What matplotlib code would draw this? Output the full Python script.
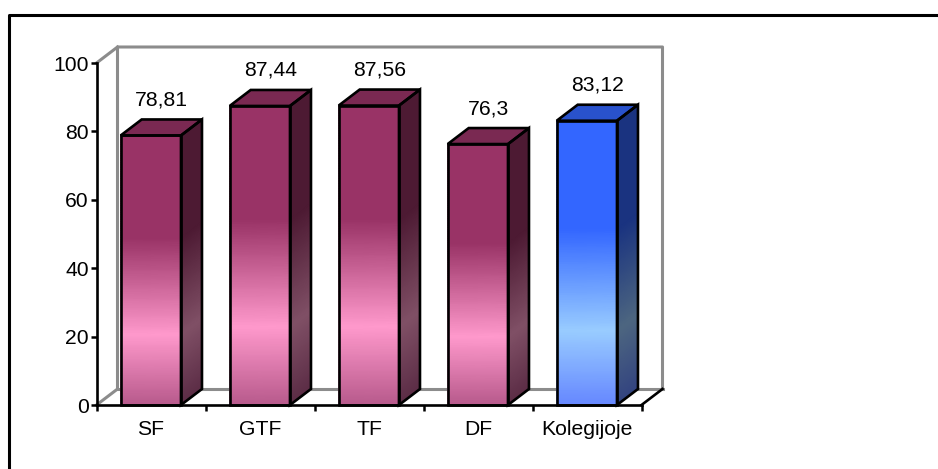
import numpy as np
import matplotlib
matplotlib.use("Agg")
import matplotlib.pyplot as plt
from matplotlib.colors import LinearSegmentedColormap
from matplotlib.patches import Polygon
from matplotlib.lines import Line2D

plt.rcParams["font.family"] = ["Liberation Sans", "DejaVu Sans"]

categories = ["SF", "GTF", "TF", "DF", "Kolegijoje"]
values = [78.81, 87.44, 87.56, 76.3, 83.12]
value_labels = ["78,81", "87,44", "87,56", "76,3", "83,12"]
yticks = [0, 20, 40, 60, 80, 100]

W, H = 938, 469
# plot area in pixels
x0, x1 = 96.5, 641.5
y0, y100 = 405, 63
# 3d depth, in data units
dx = 21 / 109
dy = 16 / 3.42
bar_left = 0.222
bar_w = 0.553
FS = 15.2
EDGE = 1.9

pink_stops = [(0, "#993366"), (0.38, "#993366"), (0.74, "#FF99CC"), (1, "#B85A8C")]
blue_stops = [(0, "#3366FF"), (0.38, "#3366FF"), (0.74, "#99CCFF"), (1, "#6688FF")]
pink_side = [(0, "#4D1A33"), (0.38, "#4D1A33"), (0.74, "#805066"), (1, "#5C2D46")]
blue_side = [(0, "#1A3380"), (0.38, "#1A3380"), (0.74, "#4D6680"), (1, "#334480")]
pink_top = "#7A2952"
blue_top = "#2952CC"


def cmap(stops):
    return LinearSegmentedColormap.from_list("g", stops)


fig = plt.figure(figsize=(W / 100, H / 100), dpi=100)
# outer frame only has a top and a left side
frame_x = [9 / W, 9 / W, 1]
frame_y = [0, 1 - 15 / H, 1 - 15 / H]
fig.add_artist(Line2D(frame_x, frame_y, color="black", lw=2.2, transform=fig.transFigure, zorder=-1))

ax = fig.add_axes([x0 / W, 1 - y0 / H, (x1 - x0) / W, (y0 - y100) / H])
ax.set_xlim(0, 5)
ax.set_ylim(0, 100)
ax.patch.set_visible(False)
for s in ax.spines.values():
    s.set_visible(False)

# back walls
grey = "#8C8C8C"
ax.plot([0, dx, dx, 5 + dx, 5 + dx], [0, dy, 100 + dy, 100 + dy, dy], color=grey, lw=2.2, clip_on=False, zorder=1)
ax.plot([0, dx], [100, 100 + dy], color=grey, lw=2.2, clip_on=False, zorder=1)
ax.plot([dx, 5 + dx], [dy, dy], color=grey, lw=2.2, clip_on=False, zorder=1)
ax.plot([5, 5 + dx], [0, dy], color="black", lw=EDGE, clip_on=False, zorder=2)

t = np.linspace(0, 1, 120)
for i, v in enumerate(values):
    last = i == len(values) - 1
    front_c = cmap(blue_stops if last else pink_stops)
    side_c = cmap(blue_side if last else pink_side)
    top_c = blue_top if last else pink_top
    l = i + bar_left
    r = l + bar_w
    ys = v * (1 - t)

    X = np.array([[l, r]] * len(t))
    Y = np.column_stack([ys, ys])
    C = np.column_stack([t, t])
    ax.pcolormesh(X, Y, C, cmap=front_c, vmin=0, vmax=1, shading="gouraud", zorder=3, clip_on=False)
    X = np.array([[r, r + dx]] * len(t))
    Y = np.column_stack([ys, ys + dy])
    ax.pcolormesh(X, Y, C, cmap=side_c, vmin=0, vmax=1, shading="gouraud", zorder=3, clip_on=False)

    ax.add_patch(Polygon([[l, v], [r, v], [r + dx, v + dy], [l + dx, v + dy]], fc=top_c, ec="black", lw=EDGE,
                         zorder=4, clip_on=False))
    ax.add_patch(Polygon([[l, 0], [r, 0], [r, v], [l, v]], fc="none", ec="black", lw=EDGE, zorder=4, clip_on=False))
    ax.add_patch(Polygon([[r, 0], [r + dx, dy], [r + dx, v + dy], [r, v]], fc="none", ec="black", lw=EDGE,
                         zorder=4, clip_on=False))
    ax.text(i + 0.5 + dx * 0.5, v + dy + 4.1, value_labels[i], ha="center", va="baseline", fontsize=FS,
            color="black", zorder=5)

# axes lines
ax.plot([0, 0], [0, 100], color="black", lw=EDGE, clip_on=False, zorder=5)
ax.plot([0, 5], [0, 0], color="black", lw=EDGE, clip_on=False, zorder=5)
ax.set_yticks(yticks)
ax.set_xticks(range(6))
ax.set_xticklabels([])
ax.set_xticks(np.arange(5) + 0.5, categories, minor=True)
ax.tick_params(axis="x", which="major", length=4, width=1.8, direction="out")
ax.tick_params(axis="x", which="minor", length=0, labelsize=FS, pad=10.7)
ax.tick_params(axis="y", length=4, width=1.8, labelsize=FS, pad=1.5)

fig.savefig("out.png", dpi=100)
